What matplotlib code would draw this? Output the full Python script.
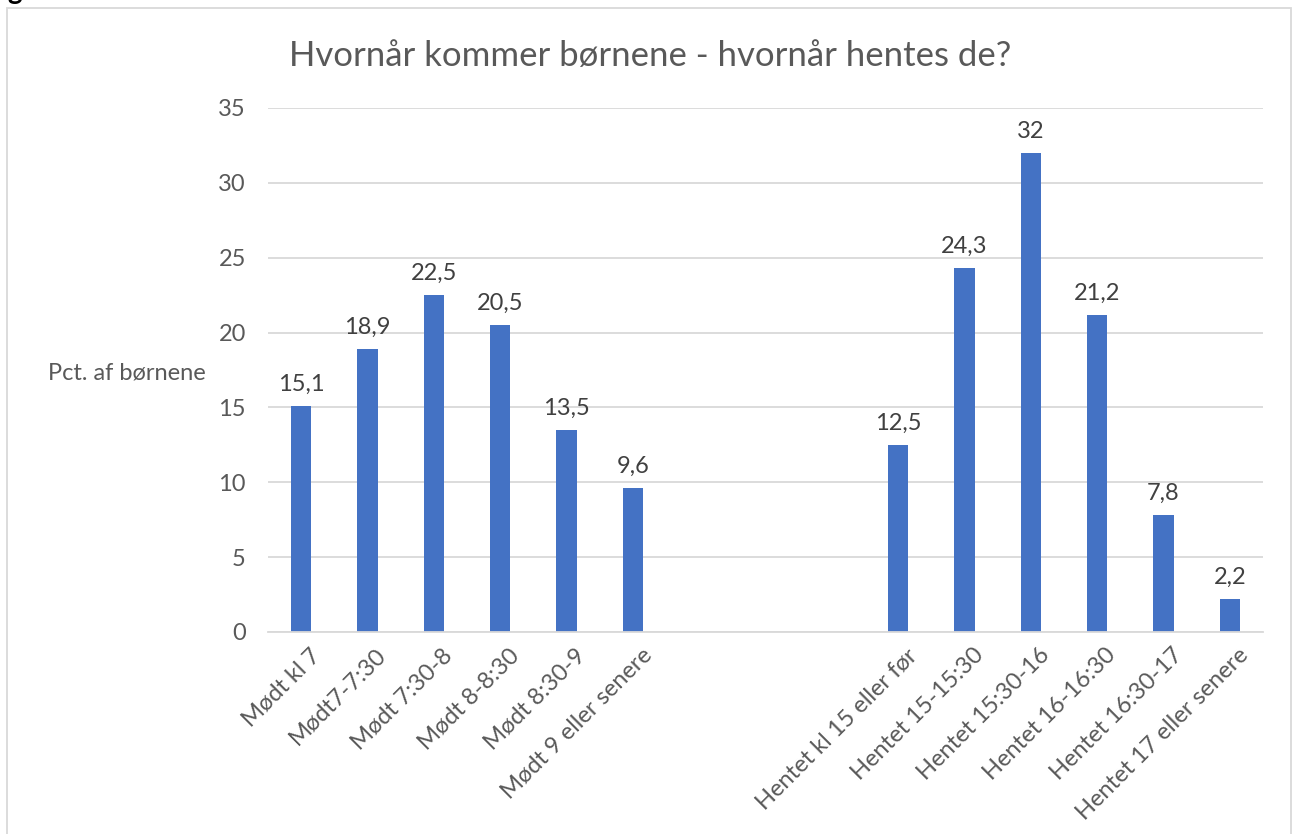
import matplotlib
matplotlib.use("Agg")
import matplotlib.pyplot as plt
from matplotlib.patches import Rectangle
import matplotlib.transforms as mtransforms

categories = ["Mødt kl 7", "Mødt7-7:30", "Mødt 7:30-8", "Mødt 8-8:30", "Mødt 8:30-9",
              "Mødt 9 eller senere", "", "", "",
              "Hentet kl 15 eller før", "Hentet 15-15:30", "Hentet 15:30-16",
              "Hentet 16-16:30", "Hentet 16:30-17", "Hentet 17 eller senere"]
values = [15.1, 18.9, 22.5, 20.5, 13.5, 9.6, None, None, None,
          12.5, 24.3, 32, 21.2, 7.8, 2.2]
title = "Hvornår kommer børnene - hvornår hentes de?"
ylabel = "Pct. af børnene"
yticks = [0, 5, 10, 15, 20, 25, 30, 35]

plt.rcParams['font.family'] = ['Lato', 'DejaVu Sans']

W, H = 1292, 834
FS = 17
fig = plt.figure(figsize=(W / 100, H / 100), dpi=100)
ax = fig.add_axes([268 / W, 1 - 632 / H, (1263 - 268) / W, (632 - 108) / H])

xs = list(range(len(categories)))
bx = [x for x, v in zip(xs, values) if v is not None]
bv = [v for v in values if v is not None]
ax.bar(bx, bv, width=0.31, color="#4472C4", zorder=3)

for x, v in zip(bx, bv):
    lab = (f"{v:g}").replace(".", ",")
    ax.annotate(lab, (x, v), xytext=(0, 8), textcoords="offset points",
                ha="center", va="bottom", fontsize=FS, color="#404040")

ax.set_xlim(-0.5, len(categories) - 0.5)
ax.set_ylim(0, 35)
ax.set_yticks(yticks)
ax.set_yticklabels([str(t) for t in yticks], fontsize=FS, color="#595959")
ax.set_xticks(xs)
ax.set_xticklabels(categories, rotation=45, ha="right", rotation_mode="anchor",
                   fontsize=FS, color="#595959")
ax.tick_params(axis="both", length=0)
ax.tick_params(axis="y", pad=16)
ax.tick_params(axis="x", pad=9)
for x_lab in ax.get_xticklabels():
    x_lab.set_transform(x_lab.get_transform() + mtransforms.ScaledTranslation(8 / 100, 0, fig.dpi_scale_trans))

ax.grid(axis="y", color="#D9D9D9", linewidth=1.3, zorder=0)
for s in ["top", "right", "left"]:
    ax.spines[s].set_visible(False)
ax.spines["bottom"].set_color("#D9D9D9")
ax.spines["bottom"].set_linewidth(1.3)
ax.spines["bottom"].set_zorder(4)

fig.text(127 / W, 1 - 373 / H, ylabel, ha="center", va="center", fontsize=FS, color="#595959")
fig.text(650 / W, 1 - 56 / H, title, ha="center", va="center", fontsize=25, color="#595959")
# cut-off glyph from text above the chart
fig.text(7 / W, 1 + 1 / H, "g", ha="left", va="baseline", fontsize=20, fontweight="bold", color="black")

fig.patches.append(Rectangle((7 / W, -0.05), (1291 - 7) / W, 1.05 - 8 / H, transform=fig.transFigure,
                             fill=False, edgecolor="#D9D9D9", linewidth=1.3))

fig.savefig("out.png", dpi=100)
